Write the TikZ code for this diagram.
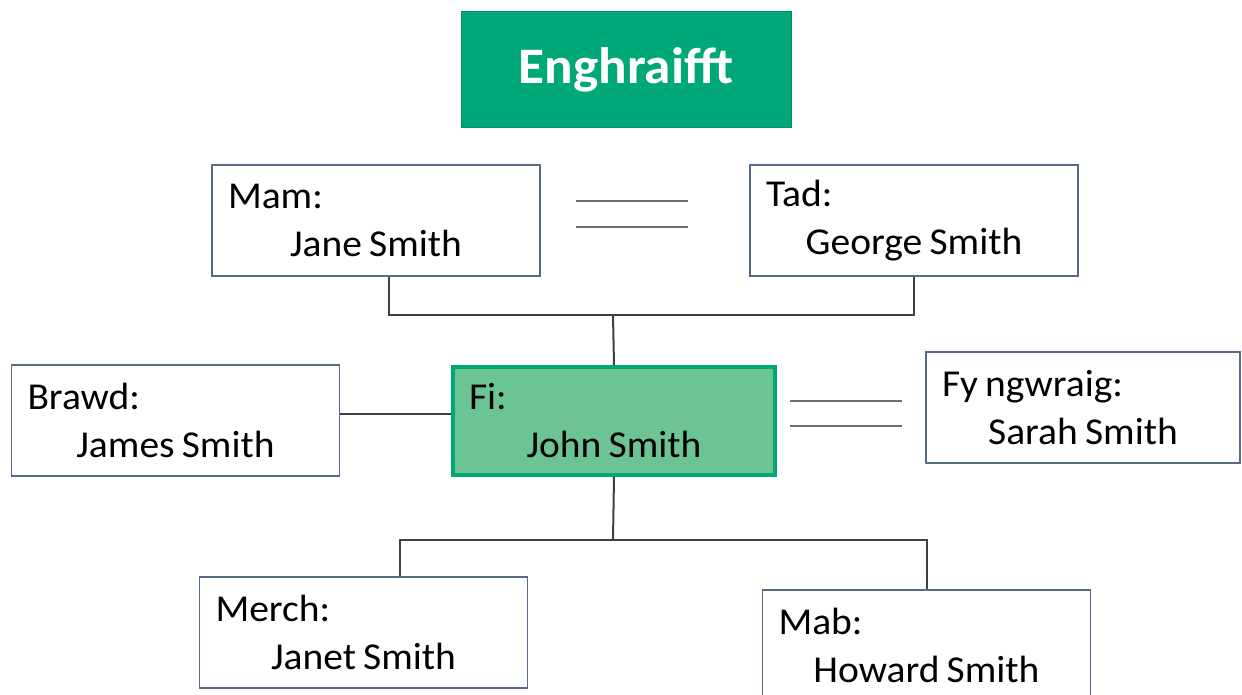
\documentclass[tikz,border=0pt]{standalone}
\usepackage{fontspec}
\setmainfont{Carlito}[FakeStretch=1.04]
\usetikzlibrary{positioning}

\definecolor{titlegreen}{RGB}{0,168,120}
\definecolor{megreen}{RGB}{108,196,148}
\definecolor{boxline}{RGB}{90,104,140}
\definecolor{linkgray}{RGB}{64,64,64}
\definecolor{eqgray}{RGB}{110,110,110}

% two lines: role on the left, name centred
\newcommand{\person}[2]{\spaceskip=3.6pt\relax
    \makebox[\linewidth][l]{#1}\\\makebox[\linewidth][c]{#2}}

\tikzset{
    personbox/.style={draw=boxline, line width=0.8pt, fill=white,
        minimum width=164pt, minimum height=55.5pt, text width=148pt,
        inner xsep=8pt, align=left, font=\fontsize{19}{24}\selectfont},
    mebox/.style={personbox, fill=megreen, draw=titlegreen, line width=2pt,
        minimum width=161pt, minimum height=54pt, text width=145pt},
    titlebox/.style={fill=titlegreen, draw=titlegreen!85!black, line width=0.5pt,
        minimum width=165pt, minimum height=58pt, text=white,
        font=\fontsize{25.6}{30}\selectfont\bfseries},
    link/.style={draw=linkgray, line width=1pt},
    wedlock/.style={draw=eqgray, line width=1pt},
}

\begin{document}
\begin{tikzpicture}[x=0.5pt, y=-0.5pt]
    \useasboundingbox (0,0) rectangle (1242,695);

    \node[titlebox] (title) at (626,70) {Enghraifft};

    \node[personbox] (mam) at (376,220.5) {\person{Mam:}{Jane Smith}};
    \node[personbox] (tad) at (914,220.5) {\person{Tad:}{George Smith}};
    \node[personbox] (brawd) at (175.5,420.5) {\person{Brawd:}{James Smith}};
    \node[mebox] (fi) at (614,421) {\person{Fi:}{John Smith}};
    \node[personbox, minimum width=157pt, text width=141pt] (gwraig) at (1083,407.5) {\person{Fy ngwraig:}{Sarah Smith}};
    \node[personbox] (merch) at (363.5,632.5) {\person{Merch:}{Janet Smith}};
    \node[personbox] (mab) at (926.5,645.5) {\person{Mab:}{Howard Smith}};

    % family links
    \coordinate (rhieni) at (613,315);
    \coordinate (plant) at (613,540);
    \draw[link] ([xshift=6.5pt]mam.south) |- (rhieni) -| (tad.south);
    \draw[link] (rhieni) -- (fi.north);
    \draw[link] ([yshift=3.5pt]brawd.east) -- ([yshift=3.5pt]brawd.east -| fi.west);
    \draw[link] (fi.south) -- (plant);
    \draw[link] ([xshift=18.25pt]merch.north) |- (plant) -| (mab.north);

    % married
    \foreach \y in {201,227} \draw[wedlock] (576,\y) -- (688,\y);
    \foreach \y in {401,426} \draw[wedlock] (790,\y) -- (902,\y);
\end{tikzpicture}
\end{document}
